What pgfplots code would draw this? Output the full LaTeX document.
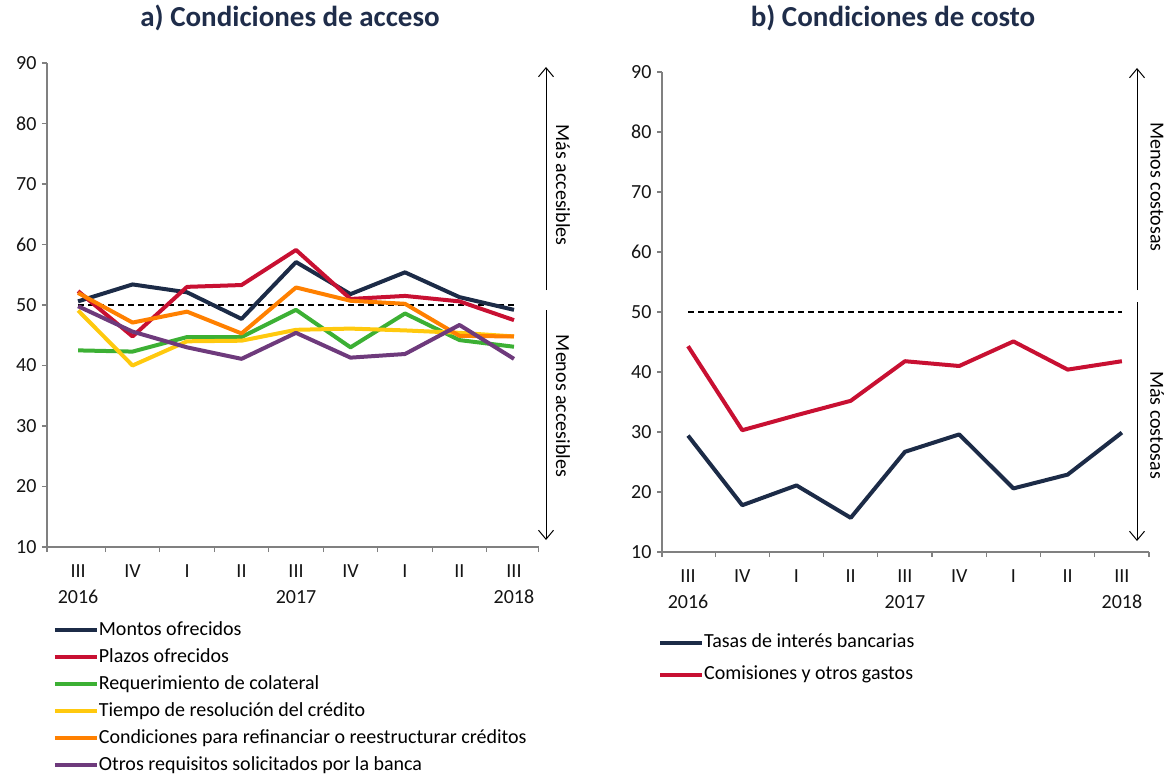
\documentclass[border=0pt]{standalone}
\usepackage{pgfplots}
\pgfplotsset{compat=1.18}
\usepackage{fontspec}
\setmainfont{Carlito}
\usetikzlibrary{arrows.meta}
\definecolor{cnavy}{RGB}{28,43,71}
\definecolor{cred}{RGB}{200,16,50}
\definecolor{cgreen}{RGB}{60,176,52}
\definecolor{cyellow}{RGB}{255,201,14}
\definecolor{corange}{RGB}{255,128,0}
\definecolor{cpurple}{RGB}{110,58,124}
\definecolor{ctitle}{RGB}{31,45,74}
\definecolor{axisgray}{RGB}{128,128,128}
\definecolor{labelgray}{RGB}{20,20,20}
\pgfplotsset{
  mystyle/.style={
    scale only axis,
    clip=false,
    axis x line*=bottom, axis y line*=left,
    axis line style={draw=axisgray, line width=1.2pt, -},
    ymin=10, ymax=90, ytick={10,20,...,90},
    tick align=outside,
    major tick length=5pt,
    tick style={draw=axisgray, line width=1.2pt},
    tick label style={font=\fontsize{20}{26}\selectfont, text=labelgray},
    /pgf/number format/assume math mode=true,
    xticklabels={},
    extra x ticks={0,1,2,3,4,5,6,7,8},
    extra x tick labels={{III\\2016},IV,I,II,{III\\2017},IV,I,II,{III\\2018}},
    extra x tick style={major tick length=0pt, tick label style={align=center, anchor=north, yshift=-14pt}},
    yticklabel style={xshift=-2pt},
    legend image code/.code={\draw[#1, line width=4pt] (0pt,0pt) -- (42pt,0pt);},
    every axis plot/.append style={line width=4pt, line join=round},
  }
}
\begin{document}
\begin{tikzpicture}[x=1pt,y=1pt]
\path[use as bounding box] (0pt,0pt) rectangle (1170pt,-776pt);

\begin{axis}[mystyle,
  at={(47pt,-547pt)}, anchor=south west,
  width=491.5pt, height=484pt,
  xmin=-0.57, xmax=8.45,
  xtick={-0.57,0.5,1.5,2.5,3.5,4.5,5.5,6.5,7.5,8.45},
  legend style={at={(0.012,-0.153)}, anchor=north west, draw=none, fill=none,
    inner sep=0pt, outer sep=0pt, font=\fontsize{20}{24}\selectfont,
    row sep=9pt, column sep=0pt, cells={anchor=west},
    nodes={inner sep=0pt, text height=14pt, text depth=4pt}},
]
\addplot[black, line width=1.6pt, dash pattern=on 6pt off 4pt, forget plot] coordinates {(0,50) (8,50)};
\addplot[cnavy] coordinates {(0,50.6) (1,53.4) (2,52.1) (3,47.7) (4,57.1) (5,51.8) (6,55.4) (7,51.3) (8,49.2)};
\addlegendentry{Montos ofrecidos}
\addplot[cred] coordinates {(0,52.3) (1,44.8) (2,53.0) (3,53.3) (4,59.1) (5,51.0) (6,51.5) (7,50.6) (8,47.5)};
\addlegendentry{Plazos ofrecidos}
\addplot[cgreen] coordinates {(0,42.5) (1,42.3) (2,44.7) (3,44.7) (4,49.2) (5,43.0) (6,48.6) (7,44.2) (8,43.1)};
\addlegendentry{Requerimiento de colateral}
\addplot[cyellow] coordinates {(0,49.1) (1,40.0) (2,44.0) (3,44.1) (4,45.9) (5,46.1) (6,45.8) (7,45.4) (8,44.8)};
\addlegendentry{Tiempo de resolución del crédito}
\addplot[corange] coordinates {(0,52.0) (1,47.1) (2,48.9) (3,45.3) (4,52.9) (5,50.7) (6,50.2) (7,44.9) (8,44.8)};
\addlegendentry{Condiciones para refinanciar o reestructurar créditos}
\addplot[cpurple] coordinates {(0,49.8) (1,45.6) (2,43.0) (3,41.1) (4,45.4) (5,41.3) (6,41.9) (7,46.7) (8,41.1)};
\addlegendentry{Otros requisitos solicitados por la banca}
\end{axis}

\begin{axis}[mystyle,
  at={(662pt,-552pt)}, anchor=south west,
  width=487pt, height=480pt,
  xmin=-0.48, xmax=8.5,
  xtick={-0.48,0.5,1.5,2.5,3.5,4.5,5.5,6.5,7.5,8.5},
  legend style={at={(-0.008,-0.17)}, anchor=north west, draw=none, fill=none,
    inner sep=0pt, outer sep=0pt, font=\fontsize{20}{24}\selectfont,
    row sep=14pt, column sep=0pt, cells={anchor=west},
    nodes={inner sep=0pt, text height=14pt, text depth=4pt}},
]
\addplot[black, line width=1.6pt, dash pattern=on 6pt off 4pt, forget plot] coordinates {(0,50) (8,50)};
\addplot[cnavy] coordinates {(0,29.4) (1,17.8) (2,21.1) (3,15.7) (4,26.7) (5,29.6) (6,20.6) (7,22.9) (8,29.9)};
\addlegendentry{Tasas de interés bancarias}
\addplot[cred] coordinates {(0,44.3) (1,30.3) (2,32.8) (3,35.2) (4,41.8) (5,41.0) (6,45.1) (7,40.4) (8,41.8)};
\addlegendentry{Comisiones y otros gastos}
\end{axis}

\node[font=\bfseries\fontsize{29}{34}\selectfont, text=ctitle] at (290pt,-18pt) {a) Condiciones de acceso};
\node[font=\bfseries\fontsize{29}{34}\selectfont, text=ctitle] at (893pt,-18pt) {b) Condiciones de costo};

\draw[-{Straight Barb[length=9pt,width=15pt]}, line width=1pt] (546pt,-290pt) -- (546pt,-67pt);
\draw[-{Straight Barb[length=9pt,width=15pt]}, line width=1pt] (546pt,-310pt) -- (546pt,-540pt);
\node[rotate=-90, font=\fontsize{20}{24}\selectfont] at (563pt,-185pt) {Más accesibles};
\node[rotate=-90, font=\fontsize{20}{24}\selectfont] at (563pt,-406pt) {Menos accesibles};

\draw[-{Straight Barb[length=9pt,width=15pt]}, line width=1pt] (1137pt,-290pt) -- (1137pt,-68pt);
\draw[-{Straight Barb[length=9pt,width=15pt]}, line width=1pt] (1137pt,-302pt) -- (1137pt,-541pt);
\node[rotate=-90, font=\fontsize{20}{24}\selectfont] at (1157pt,-187pt) {Menos costosas};
\node[rotate=-90, font=\fontsize{20}{24}\selectfont] at (1157pt,-425pt) {Más costosas};
\end{tikzpicture}
\end{document}
